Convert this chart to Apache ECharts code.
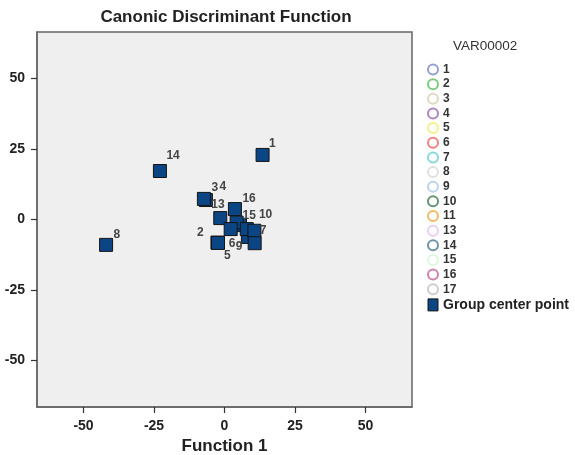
<!DOCTYPE html>
<html><head><meta charset="utf-8">
<script src="https://cdn.jsdelivr.net/npm/echarts@6/dist/echarts.min.js"></script>
<style>html,body{margin:0;padding:0;background:#fff}#c{width:575px;height:455px}</style>
</head><body><div id="c"></div>
<script>
// Group centroids (drawing order: hidden ones first)
const groups = ['4', '11', '17', '2', '5', '3', '13', '16', '15', '6', '9', '10', '7', '1', '14', '8'];
const fn1 = [-6.6, 5.5, 8.3, -2.5, -2.3, -7.3, -1.5, 3.7, 4.3, 2.2, 7.9, 10.6, 10.7, 13.5, -22.9, -42.0];
const fn2 = [6.9, -2.0, -6.2, -8.2, -8.3, 7.3, 0.5, 3.7, -1.1, -3.4, -3.4, -4.0, -8.4, 22.9, 17.2, -9.0];
const legendGroups = ['1', '2', '3', '4', '5', '6', '7', '8', '9', '10', '11', '13', '14', '15', '16', '17'];
const tickValues = [-50, -25, 0, 25, 50];

// styling
const legendColors = ['#7b86c9', '#5cbf5c', '#d8ceb0', '#9a66b3', '#f2ec6e', '#f06060', '#6cd0d0', '#d8d8d8',
  '#a8c8e8', '#3a7a50', '#f0a840', '#e2c4f0', '#4a7a90', '#d4f6d4', '#c8609a', '#c0c0c0'];
const labelOffsets = { // px: [left edge dx, vertical middle dy] from point centre
  '1': [7, -11], '14': [7, -14.5], '8': [8, -10], '3': [8, -11], '4': [14, -13], '13': [-8.5, -13],
  '16': [8, -10], '15': [6.5, -6.5], '10': [5, -15.5], '7': [5.5, -12], '2': [-20, -9], '5': [6.5, 13],
  '6': [-1.5, 15.5], '9': [-10.5, 18]
};
const CENTER = '#0b4584';
const SYM = 13;
const HALF = SYM / 2;
const FONT = 'Liberation Sans, Arial, sans-serif';

const chart = echarts.init(document.getElementById('c'), null, {renderer: 'canvas'});

const centroidData = groups.map((g, i) => {
  const off = labelOffsets[g];
  return {
    name: g,
    value: [fn1[i], fn2[i]],
    label: off ? {show: true, position: [off[0] + HALF, off[1] + HALF]} : {show: false}
  };
});

const series = legendGroups.map((g, i) => ({
  type: 'scatter', name: g, data: [], symbol: 'emptyCircle',
  itemStyle: {color: legendColors[i]}
}));
series.push({
  type: 'scatter', name: 'Group center point', symbol: 'rect', symbolSize: SYM,
  data: centroidData,
  itemStyle: {color: CENTER, borderColor: '#151515', borderWidth: 1, opacity: 1},
  label: {
    show: true, formatter: p => p.name, color: '#444', fontSize: 12, fontWeight: 'bold',
    fontFamily: FONT, align: 'left', verticalAlign: 'middle'
  },
  emphasis: {disabled: true}, z: 5
});

const axisCommon = {
  type: 'value', min: -66.5, max: 66.5,
  splitLine: {show: false},
  axisLine: {show: true, onZero: false, lineStyle: {color: '#666', width: 1.5}},
  axisTick: {show: true, length: 6, customValues: tickValues, lineStyle: {color: '#333', width: 1.2}},
  axisLabel: {customValues: tickValues, margin: 12, color: '#222', fontSize: 14, fontWeight: 'bold',
    fontFamily: FONT}
};

chart.setOption({
  animation: false,
  backgroundColor: '#fff',
  graphic: [
    {type: 'text', x: 226, y: 17, style: {text: 'Canonic Discriminant Function', align: 'center', verticalAlign: 'middle',
      font: 'bold 17px "Liberation Sans", Arial, sans-serif', fill: '#222'}},
    {type: 'text', x: 453, y: 46, style: {text: 'VAR00002', align: 'left', verticalAlign: 'middle',
      font: '13.5px "Liberation Sans", Arial, sans-serif', fill: '#333'}}
  ],
  grid: {left: 37, top: 32, width: 375, height: 375, show: true, backgroundColor: '#efefef',
    borderColor: '#666', borderWidth: 1.5, containLabel: false, outerBoundsMode: 'none'},
  xAxis: Object.assign({}, axisCommon, {
    name: 'Function 1', nameLocation: 'middle', nameGap: 29,
    nameTextStyle: {fontSize: 17, fontWeight: 'bold', color: '#222', fontFamily: FONT}
  }),
  yAxis: Object.assign({}, axisCommon),
  legend: {
    orient: 'vertical', left: 422, top: 58.5, itemWidth: 10, itemHeight: 12, itemGap: 2.65,
    selectedMode: false,
    textStyle: {fontSize: 12, fontWeight: 'bold', color: '#333', fontFamily: FONT,
      rich: {b: {fontSize: 14, fontWeight: 'bold', color: '#222'}}},
    formatter: n => n === 'Group center point' ? '{b|' + n + '}' : n,
    data: legendGroups.map((g, i) => ({
      name: g, icon: 'circle',
      itemStyle: {color: 'rgba(255,255,255,0)', borderColor: legendColors[i], borderWidth: 2}
    })).concat([{name: 'Group center point', icon: 'rect',
      itemStyle: {color: CENTER, borderColor: '#151515', borderWidth: 1}}])
  },
  series: series
});
</script></body></html>
